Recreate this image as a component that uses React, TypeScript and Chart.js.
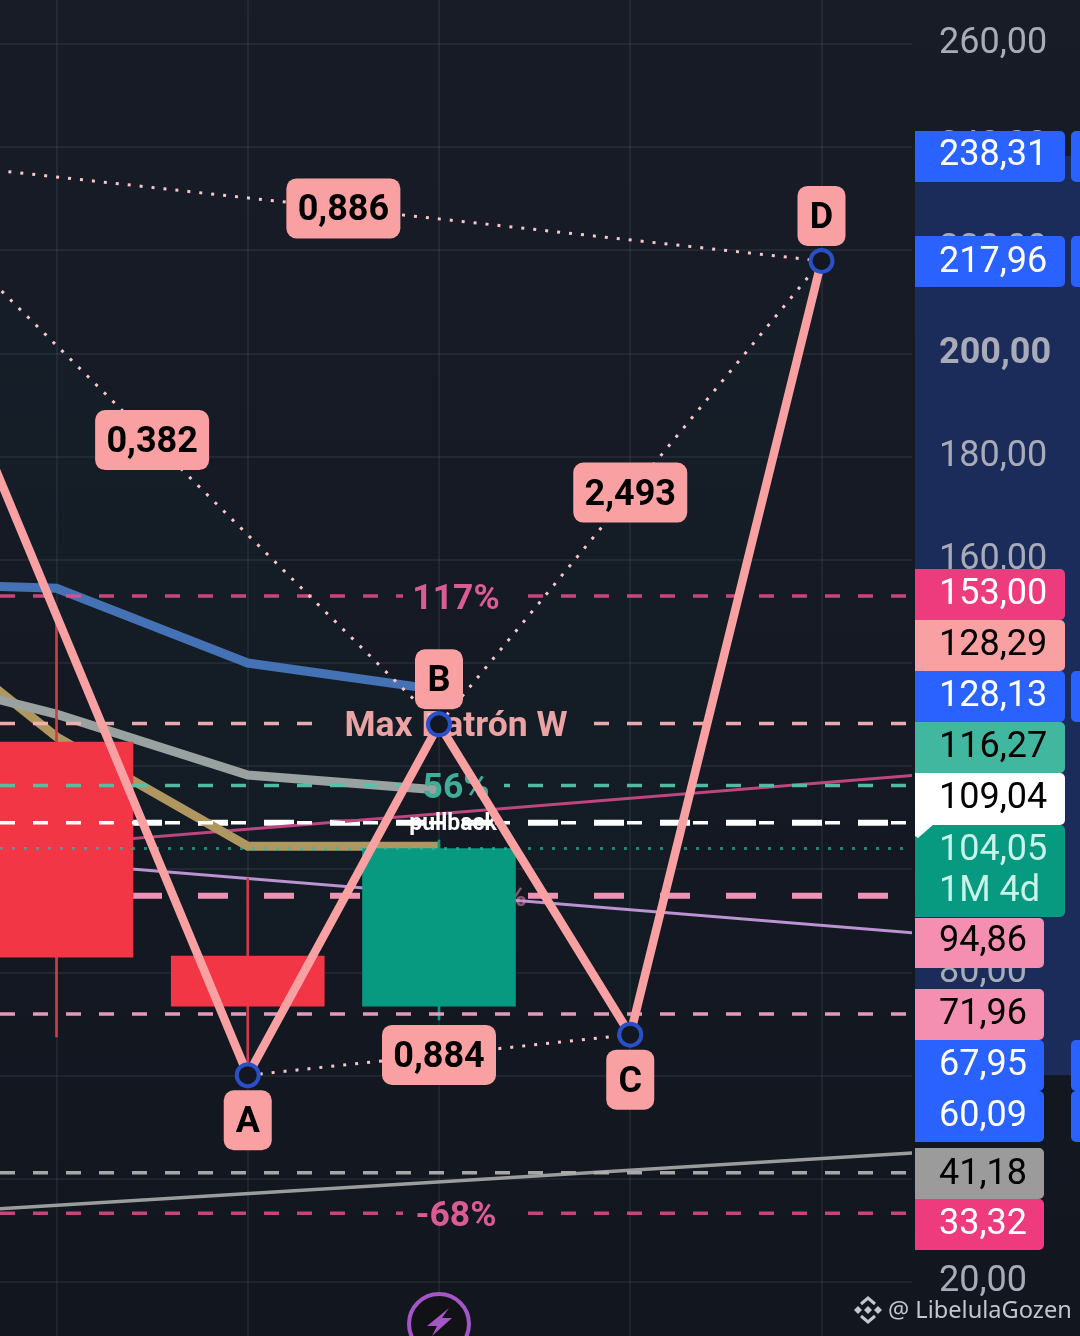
import React, { useEffect, useRef } from "react";
import { Chart, registerables } from "chart.js";

Chart.register(...registerables);

// ---- Data ----
const patternIndex = [-1, 1, 2, 3, 4];
const patternLetters = ["X", "A", "B", "C", "D"];
const patternValues = [238.31, 60.09, 128.13, 67.95, 217.96];
const ratioLabels = ["0,886", "0,382", "0,884", "2,493"];
const ratioLegs = [[0, 4], [0, 2], [1, 3], [2, 4]];

const candleIndex = [0, 1, 2];
const candleOpen = [124.7, 83.2, 73.5];
const candleClose = [83.0, 73.5, 104.05];
const candleHigh = [148.0, 98.3, 105.7];
const candleLow = [67.5, 60.1, 70.8];

const maIndex = [-1, 0, 1, 2];
const maBlue = [155.7, 154.5, 140.0, 134.8];
const maGrey = [139.4, 130.1, 118.3, 115.4];
const maTan = [155.3, 125.7, 104.5, 104.5];

const trendIndex = [-1, 5];
const trendPink = [101.8, 119.8];
const trendPurple = [104.3, 86.1];
const trendGrey = [32.6, 46.2];

const levelTop = 153.0;
const levelPattern = 128.29;
const levelGreen = 116.27;
const levelWhite = 109.04;
const levelLast = 104.05;
const levelThick = 94.86;
const levelPinkLow = 71.96;
const levelGreyLow = 41.18;
const levelBottom = 33.32;

const axisTicks = [20, 40, 60, 80, 100, 120, 140, 160, 180, 200, 220, 240, 260];

const tagValues = [238.31, 217.96, 153.0, 128.29, 128.13, 116.27, 109.04, 104.05, 94.86, 71.96, 67.95, 60.09, 41.18, 33.32];
const countdownText = "1M 4d";

// ---- Styles and layout ----
const BLUE = "#2962ff";
const ROSE = "#ed3b7d";
const SALMON = "#f9a0a2";
const PINK = "#f48fb1";
const tagTops = [131, 236, 569, 620, 671, 722, 773, 825, 918, 989, 1040, 1091, 1148, 1199];
const tagHeights = [51, 51, 51, 51, 51, 51, 52, 92, 50, 51, 51, 51, 51, 51];
const tagRights = [1065, 1065, 1065, 1065, 1065, 1065, 1065, 1065, 1044, 1044, 1044, 1044, 1044, 1044];
const tagFills = [BLUE, BLUE, ROSE, SALMON, BLUE, "#42b79f", "#ffffff", "#089981", PINK, PINK, BLUE, BLUE, "#9b9b9b", ROSE];
const tagInks = ["#fff", "#fff", "#fff", "#000", "#fff", "#000", "#000", "#c8f5ea", "#000", "#000", "#fff", "#fff", "#000", "#fff"];
const tagTextY = [156, 263, 595, 646, 697, 748, 799, 851, 942, 1015, 1066, 1117, 1175, 1225];
const tabbedTags = [0, 1, 4, 10, 11];

const X0 = 56.5;
const STEP = 191.25;
const PLOT_W = 912;
const xMin = (0 - X0) / STEP;
const xMax = (PLOT_W - X0) / STEP;
const px = (p: number) => (p - X0) / STEP;

const FONT = "Roboto, sans-serif";
const comma = (v: number) => v.toFixed(2).replace(".", ",");
const pts = (xs: number[], ys: number[]) => xs.map((x, i) => ({ x, y: ys[i] }));

function line(label: string, data: any[], color: string, width: number, order: number, extra: any = {}) {
  return {
    type: "line",
    label,
    data,
    borderColor: color,
    backgroundColor: color,
    borderWidth: width,
    pointRadius: 0,
    tension: 0,
    order,
    ...extra,
  };
}

function level(label: string, value: number, color: string, width: number, dash: number[], order: number, from = xMin, to = xMax, offset = 0) {
  return line(label, [{ x: from, y: value }, { x: to, y: value }], color, width, order, {
    borderDash: dash,
    borderDashOffset: offset,
    borderCapStyle: "butt",
  });
}

const DASH = [15, 18];
const WIDE = [30, 36];
const DOT = [3, 9];

function buildDatasets() {
  const wicks = candleIndex.map((x, i) => ({ x, y: [candleLow[i], candleHigh[i]] }));
  const bodies = candleIndex.map((x, i) => ({ x, y: [candleOpen[i], candleClose[i]] }));
  const up = candleIndex.map((_, i) => candleClose[i] >= candleOpen[i]);
  const legs = (a: number, b: number) => [
    { x: patternIndex[a], y: patternValues[a] },
    { x: patternIndex[b], y: patternValues[b] },
  ];
  const dotted = { borderDash: DOT, borderCapStyle: "butt" };
  const rose = "rgba(232,78,140,0.85)";
  return [
    level("thick-white", levelWhite, "#ffffff", 6, WIDE, 100),
    level("thick-pink", levelThick, "#ee93b5", 6, WIDE, 100),
    line("trend-pink", pts(trendIndex, trendPink), "#bf4580", 3, 95),
    line("trend-purple", pts(trendIndex, trendPurple), "#bb92d2", 3, 95),
    line("trend-grey", pts(trendIndex, trendGrey), "#9c9c9c", 3.5, 95),
    line("ma-blue", pts(maIndex, maBlue), "#4472b5", 9, 90),
    line("ma-grey", pts(maIndex, maGrey), "#9aa1a1", 9, 89),
    line("ma-tan", pts(maIndex, maTan), "#b0975f", 9, 91),
    {
      type: "bar", label: "wicks", data: wicks, grouped: false, barThickness: 2,
      backgroundColor: up.map((u) => (u ? "#089981" : "#c93d4f")), order: 80,
    },
    {
      type: "bar", label: "bodies", data: bodies, grouped: false, barThickness: 153,
      backgroundColor: up.map((u) => (u ? "#089981" : "#f23645")), order: 79,
    },
    level("l-top-a", levelTop, rose, 3.5, DASH, 70, xMin, px(403)),
    level("l-top-b", levelTop, rose, 3.5, DASH, 70, px(528), xMax),
    level("l-pat-a", levelPattern, "rgba(245,178,178,0.95)", 3.5, DASH, 70, xMin, px(322)),
    level("l-pat-b", levelPattern, "rgba(245,178,178,0.95)", 3.5, DASH, 70, px(594), xMax),
    level("l-green-a", levelGreen, "rgba(82,196,170,0.95)", 3.5, DASH, 70, xMin, px(402)),
    level("l-green-b", levelGreen, "rgba(82,196,170,0.95)", 3.5, DASH, 70, px(504), xMax, 9),
    level("l-white", levelWhite, "#ffffff", 3.5, DASH, 70),
    level("l-last", levelLast, "rgba(40,190,160,0.65)", 3, DOT, 70),
    level("l-pink-low", levelPinkLow, "rgba(240,160,195,0.95)", 3.5, DASH, 70),
    level("l-grey-low", levelGreyLow, "rgba(175,175,175,0.95)", 3.5, DASH, 70),
    level("l-bot-a", levelBottom, rose, 3.5, DASH, 70, xMin, px(403)),
    level("l-bot-b", levelBottom, rose, 3.5, DASH, 70, px(528), xMax),
    line("leg-xb", legs(0, 2), "#f7c6c6", 3, 65, dotted),
    line("leg-xd", legs(0, 4), "#f7c6c6", 3, 65, dotted),
    line("leg-ac", legs(1, 3), "#f7c6c6", 3, 65, dotted),
    line("leg-bd", legs(2, 4), "#f7c6c6", 3, 65, dotted),
    line("pattern", pts(patternIndex, patternValues), SALMON, 8.5, 60, {
      pointRadius: 11,
      pointBorderWidth: 4,
      pointBackgroundColor: "#131722",
      pointBorderColor: "#2a50c8",
      borderJoinStyle: "bevel",
    }),
  ];
}

const backdrop = {
  id: "backdrop",
  beforeDraw(chart: any) {
    const { ctx, width, height } = chart;
    const y = chart.scales.y;
    const x = chart.scales.x;
    const g = ctx.createLinearGradient(0, 0, 0, height);
    g.addColorStop(0, "#181c27");
    g.addColorStop(1, "#12161f");
    ctx.save();
    ctx.fillStyle = g;
    ctx.fillRect(0, 0, width, height);
    // price span of the pattern on the axis
    const top = y.getPixelForValue(patternValues[0]);
    const bottom = y.getPixelForValue(patternValues[1]);
    ctx.fillStyle = "#1b2c5a";
    ctx.fillRect(915, top, width - 915, bottom - top);
    // faint pattern triangles
    ctx.fillStyle = "rgba(8,153,129,0.035)";
    for (const tri of [[0, 1, 2], [2, 3, 4]]) {
      ctx.beginPath();
      tri.forEach((k, i) => {
        const a = x.getPixelForValue(patternIndex[k]);
        const b = y.getPixelForValue(patternValues[k]);
        if (i === 0) ctx.moveTo(a, b);
        else ctx.lineTo(a, b);
      });
      ctx.closePath();
      ctx.fill();
    }
    ctx.restore();
  },
};

function levelText(chart: any, text: string, value: number, color: string, font: string, dx = 17, dy = 4) {
  const { ctx } = chart;
  ctx.save();
  ctx.font = font;
  ctx.fillStyle = color;
  ctx.textAlign = "center";
  ctx.textBaseline = "middle";
  ctx.fillText(text, chart.scales.x.getPixelForValue(2) + dx, chart.scales.y.getPixelForValue(value) + dy);
  ctx.restore();
}

const layerText = {
  id: "layerText",
  beforeDatasetDraw(chart: any, args: any) {
    const name = chart.data.datasets[args.index].label;
    if (name === "wicks") {
      const { ctx } = chart;
      ctx.save();
      ctx.font = `bold 30px ${FONT}`;
      ctx.fillStyle = "rgba(230,140,175,0.55)";
      ctx.textAlign = "right";
      ctx.textBaseline = "middle";
      ctx.fillText("%", 527, chart.scales.y.getPixelForValue(levelThick) + 3);
      ctx.restore();
    }
    if (name === "leg-xb") {
      const bold = `bold 35.5px ${FONT}`;
      levelText(chart, "117%", levelTop, "#d95c95", bold);
      levelText(chart, "Max Patrón W", levelPattern, "#eba3a3", bold);
      levelText(chart, "56%", levelGreen, "#3fae98", bold);
      levelText(chart, "pullback", levelWhite, "#ffffff", `bold 23px ${FONT}`, 14, 2);
      levelText(chart, "-68%", levelBottom, "#d95c95", bold);
    }
  },
};

function labelBox(ctx: any, text: string, cx: number, cy: number, w: number) {
  const h = 60;
  ctx.fillStyle = SALMON;
  ctx.beginPath();
  ctx.roundRect(cx - w / 2, cy - h / 2, w, h, 10);
  ctx.fill();
  ctx.fillStyle = "#000";
  ctx.font = `bold 36px ${FONT}`;
  ctx.textAlign = "center";
  ctx.textBaseline = "middle";
  ctx.fillText(text, cx, cy + 3);
}

const labels = {
  id: "labels",
  afterDatasetsDraw(chart: any) {
    const { ctx } = chart;
    const x = chart.scales.x;
    const y = chart.scales.y;
    ctx.save();
    ratioLabels.forEach((t, i) => {
      const [a, b] = ratioLegs[i];
      labelBox(ctx, t,
        x.getPixelForValue((patternIndex[a] + patternIndex[b]) / 2),
        y.getPixelForValue((patternValues[a] + patternValues[b]) / 2), 114);
    });
    patternLetters.forEach((t, i) => {
      if (i === 0) return;
      const below = patternValues[i] < patternValues[i === 1 ? 2 : i - 1];
      labelBox(ctx, t, x.getPixelForValue(patternIndex[i]),
        y.getPixelForValue(patternValues[i]) + (below ? 45 : -45), 48);
    });
    ctx.restore();
  },
  afterDraw(chart: any) {
    const { ctx, width } = chart;
    ctx.save();
    // price tags
    tagValues.forEach((v, i) => {
      ctx.fillStyle = tagFills[i];
      ctx.beginPath();
      ctx.roundRect(915, tagTops[i], tagRights[i] - 915, tagHeights[i], [0, 5, 5, 0]);
      ctx.fill();
      if (tabbedTags.includes(i)) {
        ctx.beginPath();
        ctx.roundRect(1071, tagTops[i], width - 1071 + 6, tagHeights[i], 5);
        ctx.fill();
      }
    });
    ctx.fillStyle = "#ffffff";
    ctx.beginPath();
    ctx.moveTo(915, 824);
    ctx.lineTo(934, 824);
    ctx.lineTo(918, 838);
    ctx.lineTo(915, 836);
    ctx.closePath();
    ctx.fill();
    ctx.font = `36px ${FONT}`;
    ctx.textAlign = "left";
    ctx.textBaseline = "middle";
    tagValues.forEach((v, i) => {
      ctx.fillStyle = tagInks[i];
      ctx.fillText(comma(v), 939, tagTextY[i]);
      if (i === 7) ctx.fillText(countdownText, 939, tagTextY[i] + 41);
    });
    // replay button
    ctx.beginPath();
    ctx.arc(439, 1324, 30, 0, Math.PI * 2);
    ctx.fillStyle = "#101216";
    ctx.fill();
    ctx.lineWidth = 4;
    ctx.strokeStyle = "#a455c6";
    ctx.stroke();
    ctx.fillStyle = "#a455c6";
    ctx.beginPath();
    [[449, 1308], [427, 1326], [437, 1326], [432, 1336], [452, 1318], [442, 1318]].forEach(([a, b], i) =>
      i ? ctx.lineTo(a, b) : ctx.moveTo(a, b));
    ctx.closePath();
    ctx.fill();
    // watermark
    ctx.fillStyle = "#c3c6ce";
    for (const [a, b, r] of [[858, 1310, 4], [878, 1310, 4], [868, 1310, 4]]) {
      ctx.beginPath();
      ctx.moveTo(a - r, b);
      ctx.lineTo(a, b - r);
      ctx.lineTo(a + r, b);
      ctx.lineTo(a, b + r);
      ctx.closePath();
      ctx.fill();
    }
    ctx.strokeStyle = "#c3c6ce";
    ctx.lineWidth = 3;
    ctx.beginPath();
    ctx.moveTo(861, 1304); ctx.lineTo(868, 1298); ctx.lineTo(875, 1304);
    ctx.moveTo(861, 1316); ctx.lineTo(868, 1322); ctx.lineTo(875, 1316);
    ctx.stroke();
    ctx.font = `23.6px "Noto Sans", ${FONT}`;
    ctx.textAlign = "left";
    ctx.textBaseline = "alphabetic";
    ctx.fillText("@ LibelulaGozen", 888, 1318);
    ctx.restore();
  },
};

export default function App() {
  const ref = useRef<HTMLCanvasElement | null>(null);
  useEffect(() => {
    document.body.style.margin = "0";
    document.body.style.background = "#14181f";
    const chart = new Chart(ref.current as HTMLCanvasElement, {
      type: "bar",
      data: { datasets: buildDatasets() as any },
      plugins: [backdrop, layerText, labels],
      options: {
        animation: false,
        responsive: false,
        devicePixelRatio: 1,
        layout: { padding: 0, autoPadding: false },
        events: [],
        plugins: { legend: { display: false }, tooltip: { enabled: false }, title: { display: false } },
        scales: {
          x: {
            type: "linear",
            min: xMin,
            max: xMax,
            offset: false,
            afterBuildTicks(s: any) {
              s.ticks = [0, 1, 2, 3, 4].map((value) => ({ value }));
            },
            afterFit(s: any) {
              s.height = 0;
              s.paddingLeft = 0;
              s.paddingRight = 0;
            },
            ticks: { display: false },
            border: { display: false },
            grid: { color: "rgba(200,210,230,0.07)", lineWidth: 2, drawTicks: false, offset: false },
          },
          y: {
            type: "linear",
            position: "right",
            min: 20 - 54 / 5.158,
            max: 20 + 1282 / 5.158,
            afterBuildTicks(s: any) {
              s.ticks = axisTicks.map((value) => ({ value }));
            },
            afterFit(s: any) {
              s.width = 1080 - PLOT_W;
              s.paddingTop = 0;
              s.paddingBottom = 0;
            },
            border: { display: false },
            grid: { color: "rgba(200,210,230,0.07)", lineWidth: 2, drawTicks: false },
            ticks: {
              padding: 27,
              labelOffset: 0,
              crossAlign: "near",
              color: "#a9acb8",
              autoSkip: false,
              font: (c: any) => ({
                family: FONT,
                size: 36,
                weight: c.tick && c.tick.value === 200 ? "bold" : "normal",
              }),
              callback: (v: any) => comma(Number(v)),
            },
          },
        },
      } as any,
    } as any);
    return () => chart.destroy();
  }, []);
  return (
    <div style={{ position: "absolute", left: 0, top: 0, width: 1080, height: 1336, overflow: "hidden" }}>
      <canvas ref={ref} width={1080} height={1336} style={{ display: "block", width: 1080, height: 1336 }} />
    </div>
  );
}
